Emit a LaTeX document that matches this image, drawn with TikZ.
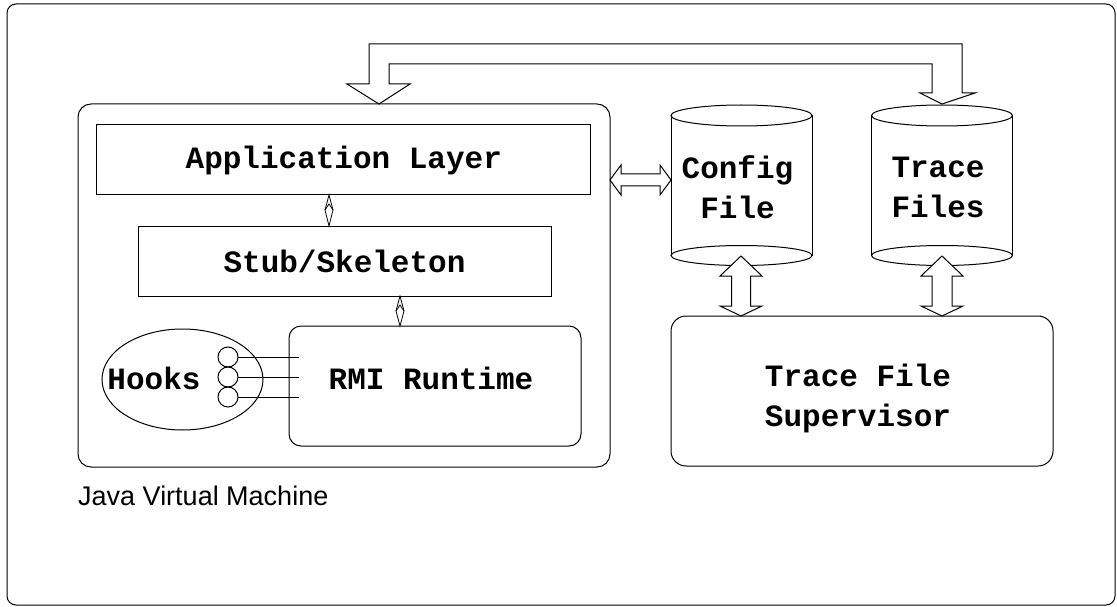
\documentclass[tikz,border=0pt]{standalone}
\usepackage{fontspec}
\setmainfont{Liberation Sans}
\newfontfamily\codefont{Liberation Mono}
\usetikzlibrary{shapes.geometric}
\begin{document}
\begin{tikzpicture}[x=1pt,y=-1pt,line join=miter,
  ln/.style={draw=black,line width=1pt},
  box/.style={ln,rectangle,inner sep=0pt,outer sep=0pt},
  rbox/.style={box,rounded corners=#1},
  code/.style={font=\codefont\bfseries\fontsize{31}{40}\selectfont,inner sep=0pt,align=center},
  blockarrow/.style={ln,fill=white},
  hookring/.style={ln,circle,minimum size=20pt,inner sep=0pt,outer sep=0pt}]
\useasboundingbox (0,0) rectangle (1117,607);

% outer frame
\draw[ln,rounded corners=9] (7,4) rectangle (1115,605);

% Java virtual machine and its layers
\node[rbox=13,minimum width=532,minimum height=363] (jvm) at (344,285.5) {};
\node[box,minimum width=494,minimum height=70] (app) at (343.8,160) {};
\node[code] at (app.center) {Application Layer};
\node[box,minimum width=413,minimum height=70] (stub) at (344.5,261) {};
\node[code] at (stub.center) {Stub/Skeleton};
\node[rbox=12,minimum width=292,minimum height=120] (rmi) at (435,386) {};
\node[code] at ([xshift=-4pt,yshift=8pt]rmi.center) {RMI Runtime};

% hooks attached to the runtime
\node[ln,ellipse,minimum width=161,minimum height=101,inner sep=0pt] (hooks) at (182.5,379.5) {};
\node[code] at (154,378) {Hooks};
\node[hookring] (h1) at (228,357) {};
\node[hookring] (h2) at (228,377) {};
\node[hookring] (h3) at (228,397) {};
\foreach \h in {h1,h2,h3}
  \draw[ln] (\h.east) -- ([xshift=10pt]\h.east -| rmi.west);

% diamond links between the layers
\coordinate (d1) at (329,210);
\coordinate (d2) at (400,311);
\foreach \d/\u/\l in {d1/app/stub,d2/stub/rmi}{
  \draw[ln,line width=0.8pt] (\u.south -| \d) -- ([xshift=4pt]\d) -- (\l.north -| \d) -- ([xshift=-4pt]\d) -- cycle;
  \draw[ln,line width=0.8pt] ([xshift=-4pt]\d) -- ([yshift=6pt]\d) -- ([xshift=4pt]\d);
}

% label of the virtual machine
\node[anchor=base west,inner sep=0pt,font=\fontsize{27}{32}\selectfont] (jvmlabel) at (78,505) {Java Virtual Machine};

% data stores
\foreach \n/\cx/\t in {cfg/741.5/{Config\\File},trc/942/{Trace\\Files}}{
  \draw[ln] (\cx-70.5,115.5) -- (\cx-70.5,255.5);
  \draw[ln] (\cx+70.5,115.5) -- (\cx+70.5,255.5);
  \draw[ln,fill=white] (\cx,115.5) ellipse [x radius=70.5,y radius=10.5];
  \draw[ln] (\cx,255.5) ellipse [x radius=70.5,y radius=10];
  \node[code] (\n) at (\cx-4,187) {\t};
}

% supervisor
\node[rbox=15,minimum width=382,minimum height=150] (sup) at (862,391) {};
\node[code] at ([xshift=-4pt,yshift=-7pt]sup.center) {Trace File\\Supervisor};

% block arrow between the machine and the config file
\coordinate (ha) at (640.5,180);
\draw[blockarrow,shift={(ha)}] (-30.5,0) -- (-19.5,-15) -- (-19.5,-6) -- (19.5,-6) -- (19.5,-15)
  -- (30.5,0) -- (19.5,15) -- (19.5,6) -- (-19.5,6) -- (-19.5,15) -- cycle;

% block arrows between the stores and the supervisor
\foreach \cx/\sw in {741/9.5,942/10}{
  \draw[blockarrow,shift={(\cx,286)}] (0,-30) -- (21,-10) -- (\sw,-10) -- (\sw,20) -- (21,20)
    -- (0,30) -- (-21,20) -- (-\sw,20) -- (-\sw,-10) -- (-21,-10) -- cycle;
}

% block arrow from the trace files back to the machine
\draw[blockarrow] (369,84) -- (369,44) -- (962,44) -- (962,93) -- (975,93) -- (942,104)
  -- (920,93) -- (932,93) -- (932,64) -- (389,64) -- (389,84) -- (410,84) -- (379,104)
  -- (347,84) -- cycle;
\end{tikzpicture}
\end{document}
